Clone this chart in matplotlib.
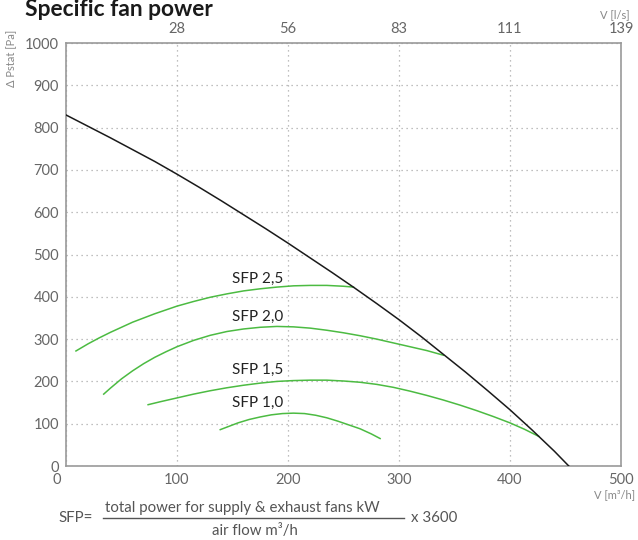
import matplotlib
matplotlib.use('Agg')
import matplotlib.pyplot as plt
import matplotlib.transforms as mtransforms

plt.rcParams['font.family'] = ['Lato', 'DejaVu Sans']

# fan curve, airflow [m3/h] vs static pressure [Pa]
fan_q = [0, 20, 40, 60, 80, 100, 120, 140, 160, 180, 200, 220, 240, 260, 280,
         300, 320, 340, 360, 380, 400, 420, 440, 453]
fan_p = [830, 803, 776, 748, 720, 690, 659, 627, 594, 561, 527, 492, 457, 421, 384,
         346, 306, 264, 222, 178, 133, 85, 35, 0]

# SFP iso-lines
sfp25_q = [9, 20, 30, 40, 50, 60, 70, 80, 90, 100, 115, 130, 145, 160, 175, 190,
           205, 220, 235, 250, 259]
sfp25_p = [272, 289, 303, 316, 328, 340, 350, 360, 369, 378, 389, 399, 407, 414, 419, 423,
           426, 427, 427, 425, 423]

sfp20_q = [34, 40, 50, 60, 70, 80, 90, 100, 115, 130, 145, 160, 175, 190, 205, 220,
           235, 250, 265, 280, 295, 310, 325, 340]
sfp20_p = [170, 184, 206, 225, 242, 257, 270, 282, 297, 309, 318, 324, 328, 330, 329, 326,
           321, 315, 308, 300, 291, 282, 273, 262]

sfp15_q = [74, 85, 100, 115, 130, 145, 160, 175, 190, 205, 220, 235, 250, 265, 280,
           295, 310, 325, 340, 355, 370, 385, 400, 413, 426]
sfp15_p = [145, 152, 161, 170, 178, 185, 191, 196, 200, 202, 203, 203, 201, 198, 193,
           186, 177, 167, 156, 144, 131, 117, 102, 87, 70]

sfp10_q = [139, 145, 155, 165, 175, 185, 195, 205, 215, 225, 235, 245, 255, 265, 275, 283]
sfp10_p = [86, 92, 102, 110, 116, 121, 124, 125, 124, 120, 114, 106, 97, 88, 76, 65]

sfp_labels = ['SFP 2,5', 'SFP 2,0', 'SFP 1,5', 'SFP 1,0']
label_q = [150, 150, 150, 150]
label_p = [432, 343, 217, 140]

x_ticks = [0, 100, 200, 300, 400, 500]
x_ticklabels = ['0', '100', '200', '300', '400', '500']
y_ticks = [0, 100, 200, 300, 400, 500, 600, 700, 800, 900, 1000]
top_ticks = [100, 200, 300, 400, 500]
top_ticklabels = ['28', '56', '83', '111', '139']

green = '#4cbb42'
grey_txt = '#666666'
spine_c = '#999999'

fig = plt.figure(figsize=(6.38, 5.40), dpi=100)
ax = fig.add_axes([0.1034, 0.1370, 0.8699, 0.7833])

ax.plot(fan_q, fan_p, color='#1a1a1a', lw=1.1, zorder=4, solid_joinstyle='round')
for q, p in [(sfp25_q, sfp25_p), (sfp20_q, sfp20_p), (sfp15_q, sfp15_p), (sfp10_q, sfp10_p)]:
    ax.plot(q, p, color=green, lw=1.1, zorder=3, solid_joinstyle='round')

for txt, q, p in zip(sfp_labels, label_q, label_p):
    ax.text(q, p, txt, ha='left', va='baseline', fontsize=11, color='#222222', zorder=5)

ax.set_xlim(0, 500)
ax.set_ylim(0, 1000)
ax.set_xticks(x_ticks)
ax.set_xticklabels(x_ticklabels)
ax.set_yticks(y_ticks)
ax.tick_params(length=0, labelsize=10.5, labelcolor=grey_txt, pad=5)
ax.grid(True, color='#aaaaaa', lw=0.9, linestyle=(0, (1, 3)))
ax.set_axisbelow(True)
for s in ax.spines.values():
    s.set_color(spine_c)
    s.set_linewidth(1.2)

# zero on the x axis sits left of the corner
shift = mtransforms.ScaledTranslation(-0.09, 0, fig.dpi_scale_trans)
lbl0 = ax.get_xticklabels()[0]
lbl0.set_transform(lbl0.get_transform() + shift)

top = ax.twiny()
top.set_xlim(ax.get_xlim())
top.set_xticks(top_ticks)
top.set_xticklabels(top_ticklabels)
top.tick_params(length=0, labelsize=10.5, labelcolor=grey_txt, pad=5)
for s in top.spines.values():
    s.set_visible(False)

fig.text(0.039, 1 - 16 / 540, 'Specific fan power', fontsize=16.4, fontweight='bold',
         color='#1a1a1a', ha='left', va='baseline')
fig.text(12 / 638, 1 - 58 / 540, 'Δ Pstat [Pa]', rotation=90, fontsize=8,
         color='#888888', ha='center', va='center')
fig.text(630 / 638, 1 - 15 / 540, 'V [l/s]', fontsize=8, color='#888888',
         ha='right', va='center')
fig.text(635 / 638, 1 - 495 / 540, 'V [m³/h]', fontsize=8, color='#888888',
         ha='right', va='center')

# SFP formula under the chart
fs = 10.8
fig.text(58 / 638, 1 - 518 / 540, 'SFP=', fontsize=fs, color='#555555',
         ha='left', va='center')
fig.text(242 / 638, 1 - 508 / 540, 'total power for supply & exhaust fans kW',
         fontsize=fs, color='#555555', ha='center', va='center')
fig.add_artist(plt.Line2D([103 / 638, 404 / 638], [1 - 518 / 540, 1 - 518 / 540],
                          color='#555555', lw=1.0))
fig.text(255 / 638, 1 - 531 / 540, 'air flow m³/h', fontsize=fs, color='#555555',
         ha='center', va='center')
fig.text(411 / 638, 1 - 518 / 540, 'x 3600', fontsize=fs, color='#555555',
         ha='left', va='center')

fig.savefig('out.png', dpi=100)
